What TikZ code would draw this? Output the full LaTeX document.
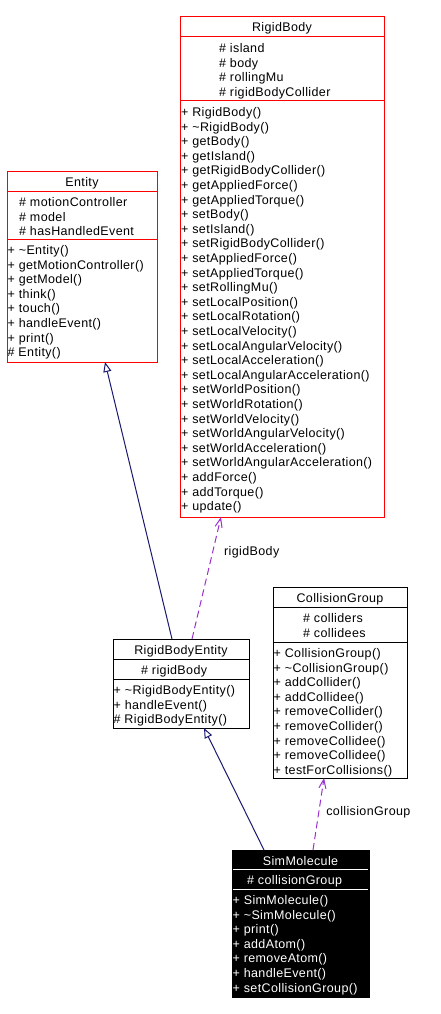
\documentclass[tikz,border=0pt]{standalone}
\usepackage{fontspec}
\setmainfont{Liberation Sans}[LetterSpace=3]
\usetikzlibrary{arrows.meta}
\usetikzlibrary{calc}

\definecolor{boxred}{HTML}{FF0000}
\definecolor{inhblue}{HTML}{191970}
\definecolor{usepurple}{HTML}{9A32CD}

\begin{document}
\begin{tikzpicture}[x=1pt, y=-1pt,
    classbox/.style={draw=#1, line width=1pt, inner sep=0pt, outer sep=0pt, anchor=north west},
    member/.style={anchor=base west, inner sep=0pt, font=\fontsize{12.5}{14}\selectfont},
    classname/.style={anchor=base, inner sep=0pt, font=\fontsize{12.5}{14}\selectfont},
    inherit/.style={draw=inhblue, line width=1pt, -{Triangle[open, length=10pt, width=8pt]}},
    uses/.style={draw=usepurple, line width=1pt, dash pattern=on 7pt off 4pt, -{Straight Barb[length=9pt, width=7pt]}},
    edgelabel/.style={anchor=west, inner sep=0pt, font=\fontsize{12.5}{14}\selectfont}]
    \useasboundingbox (0,0) rectangle (440,1014);

    % RigidBody
    \node[classbox=boxred, minimum width=204, minimum height=500] (rigidbody) at (180,17) {};
    \draw[boxred, line width=1pt] ([yshift=-20]rigidbody.north west) -- ([yshift=-20]rigidbody.north east);
    \draw[boxred, line width=1pt] ([yshift=-84]rigidbody.north west) -- ([yshift=-84]rigidbody.north east);
    \node[classname] (rb-title) at (282,32) {RigidBody};
    \foreach \a [count=\i] in {island, body, rollingMu, rigidBodyCollider}
        \node[member] (rb-a\i) at (219, {52.5+(\i-1)*14.6}) {\# \a};
    \foreach \m [count=\i] in {+ RigidBody(), + \textasciitilde RigidBody(), + getBody(), + getIsland(),
        + getRigidBodyCollider(), + getAppliedForce(), + getAppliedTorque(), + setBody(), + setIsland(),
        + setRigidBodyCollider(), + setAppliedForce(), + setAppliedTorque(), + setRollingMu(),
        + setLocalPosition(), + setLocalRotation(), + setLocalVelocity(), + setLocalAngularVelocity(),
        + setLocalAcceleration(), + setLocalAngularAcceleration(), + setWorldPosition(),
        + setWorldRotation(), + setWorldVelocity(), + setWorldAngularVelocity(),
        + setWorldAcceleration(), + setWorldAngularAcceleration(), + addForce(), + addTorque(), + update()}
        \node[member] (rb-m\i) at (181, {116.5+(\i-1)*14.6}) {\m};

    % Entity
    \node[classbox=boxred, minimum width=150, minimum height=191] (entity) at (7,171) {};
    \draw[boxred, line width=1pt] ([yshift=-20]entity.north west) -- ([yshift=-20]entity.north east);
    \draw[boxred, line width=1pt] ([yshift=-68]entity.north west) -- ([yshift=-68]entity.north east);
    \node[classname] (en-title) at (82,186) {Entity};
    \foreach \a [count=\i] in {motionController, model, hasHandledEvent}
        \node[member] (en-a\i) at (19, {206.5+(\i-1)*14.6}) {\# \a};
    \foreach \m [count=\i] in {+ \textasciitilde Entity(), + getMotionController(), + getModel(), + think(),
        + touch(), + handleEvent(), + print(), \# Entity()}
        \node[member] (en-m\i) at (7.5, {254.5+(\i-1)*14.6}) {\m};

    % RigidBodyEntity
    \node[classbox=black, minimum width=136, minimum height=89] (rbentity) at (113,639) {};
    \draw[line width=1pt] ([yshift=-20]rbentity.north west) -- ([yshift=-20]rbentity.north east);
    \draw[line width=1pt] ([yshift=-40]rbentity.north west) -- ([yshift=-40]rbentity.north east);
    \node[classname] (rbe-title) at (181,654) {RigidBodyEntity};
    \node[member] (rbe-a1) at (141,674.5) {\# rigidBody};
    \foreach \m [count=\i] in {+ \textasciitilde RigidBodyEntity(), + handleEvent(), \# RigidBodyEntity()}
        \node[member] (rbe-m\i) at (113.5, {694.5+(\i-1)*14.6}) {\m};

    % CollisionGroup
    \node[classbox=black, minimum width=134, minimum height=191] (collgroup) at (273,587) {};
    \draw[line width=1pt] ([yshift=-20]collgroup.north west) -- ([yshift=-20]collgroup.north east);
    \draw[line width=1pt] ([yshift=-55]collgroup.north west) -- ([yshift=-55]collgroup.north east);
    \node[classname] (cg-title) at (340,602) {CollisionGroup};
    \foreach \a [count=\i] in {colliders, collidees}
        \node[member] (cg-a\i) at (303, {622.5+(\i-1)*14.6}) {\# \a};
    \foreach \m [count=\i] in {+ CollisionGroup(), + \textasciitilde CollisionGroup(), + addCollider(),
        + addCollidee(), + removeCollider(), + removeCollider(), + removeCollidee(), + removeCollidee(),
        + testForCollisions()}
        \node[member] (cg-m\i) at (273.5, {657.5+(\i-1)*14.6}) {\m};

    % SimMolecule
    \node[classbox=black, fill=black, minimum width=137, minimum height=147] (simmol) at (232,850) {};
    \draw[white, line width=1pt] ([xshift=1,yshift=-19]simmol.north west) -- ([xshift=-1,yshift=-19]simmol.north east);
    \draw[white, line width=1pt] ([xshift=1,yshift=-39]simmol.north west) -- ([xshift=-1,yshift=-39]simmol.north east);
    \node[classname, text=white] (sm-title) at (300.5,865) {SimMolecule};
    \node[member, text=white] (sm-a1) at (247,884.5) {\# collisionGroup};
    \foreach \m [count=\i] in {+ SimMolecule(), + \textasciitilde SimMolecule(), + print(), + addAtom(),
        + removeAtom(), + handleEvent(), + setCollisionGroup()}
        \node[member, text=white] (sm-m\i) at (232.5, {904.5+(\i-1)*14.6}) {\m};

    % Relations
    \draw[inherit] ([xshift=-9]rbentity.north) -- ([xshift=23]entity.south);
    \draw[inherit] ([xshift=-36.5]simmol.north) -- ([xshift=23]rbentity.south);
    \draw[uses] ([xshift=11]rbentity.north) -- ([xshift=-61]rigidbody.south)
        node[edgelabel, pos=0.713, xshift=11] (lbl-rb) {rigidBody};
    \draw[uses] ([xshift=12.5]simmol.north) -- ([xshift=-16]collgroup.south)
        node[edgelabel, pos=0.528, xshift=7] (lbl-cg) {collisionGroup};
\end{tikzpicture}
\end{document}
